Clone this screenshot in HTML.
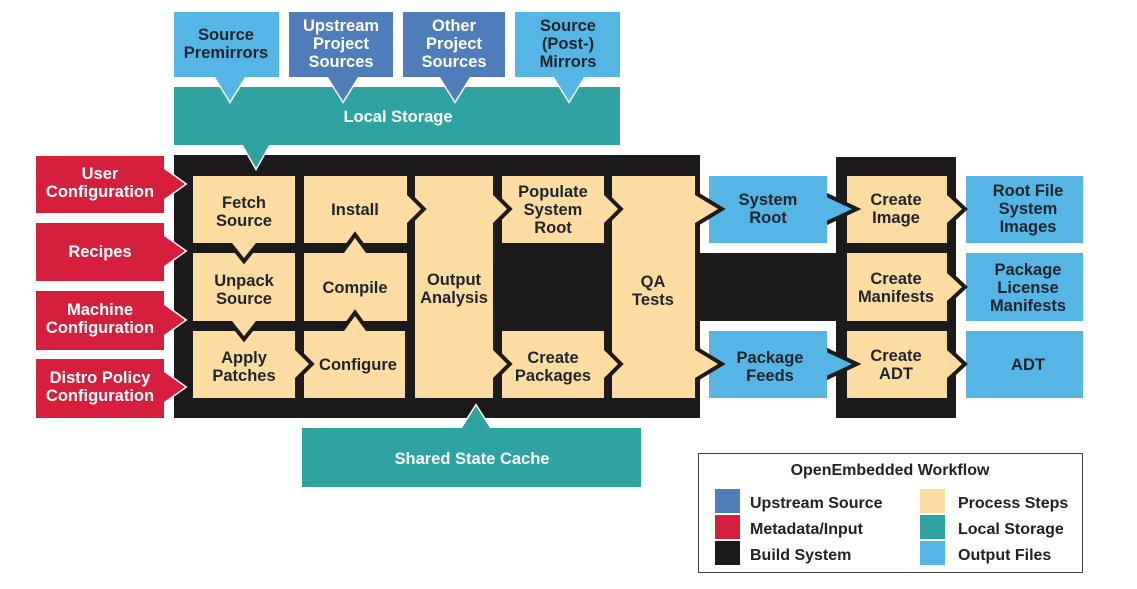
<!DOCTYPE html>
<html><head><meta charset="utf-8"><style>
html,body{margin:0;padding:0;background:#fff}
svg{display:block}
text{font-family:"Liberation Sans Narrow","Liberation Sans",sans-serif;font-weight:bold;font-size:16.5px;text-anchor:middle}
.w{fill:#fff}.d{fill:#1e2530}
.lg{font-family:"Liberation Sans",sans-serif;font-size:16px;text-anchor:start;fill:#222}
</style></head><body>
<svg width="1137" height="589" viewBox="0 0 1137 589" xmlns="http://www.w3.org/2000/svg">
<rect width="1137" height="589" fill="#fff"/>

<!-- main black -->
<rect x="174" y="155" width="526" height="263" fill="#1c1a1a"/>
<rect x="836" y="157" width="120" height="261" fill="#1c1a1a"/>
<rect x="700" y="253" width="136" height="68" fill="#1c1a1a"/>

<!-- Local storage with pointer -->
<polygon fill="#2fa2a2" stroke="#fff" stroke-width="3" paint-order="stroke" points="174,87 620,87 620,145 269,145 256,168 243,145 174,145"/>
<text class="w" x="398" y="122">Local Storage</text>

<!-- top boxes with down pointers -->
<g stroke="#fff" stroke-width="3" paint-order="stroke">
<polygon fill="#55b5e5" points="174,12 279,12 279,77 245,77 230,101 215,77 174,77"/>
<polygon fill="#4e7db9" points="289,12 393,12 393,77 358,77 343,101 328,77 289,77"/>
<polygon fill="#4e7db9" points="403,12 505,12 505,77 470,77 455,101 440,77 403,77"/>
<polygon fill="#55b5e5" points="515,12 620,12 620,77 584,77 569,101 554,77 515,77"/>
</g>
<text class="d" x="226" y="40">Source</text><text class="d" x="226" y="58">Premirrors</text>
<text class="w" x="341" y="31">Upstream</text><text class="w" x="341" y="49">Project</text><text class="w" x="341" y="67">Sources</text>
<text class="w" x="454" y="31">Other</text><text class="w" x="454" y="49">Project</text><text class="w" x="454" y="67">Sources</text>
<text class="d" x="568" y="31">Source</text><text class="d" x="568" y="49">(Post-)</text><text class="d" x="568" y="67">Mirrors</text>

<!-- shared state cache -->
<polygon fill="#2fa2a2" stroke="#fff" stroke-width="3" paint-order="stroke" points="302,428 462,428 476,406 490,428 641,428 641,487 302,487"/>
<text class="w" x="472" y="464">Shared State Cache</text>

<!-- red inputs -->
<g fill="#d51f3d" stroke="#fff" stroke-width="3" paint-order="stroke">
<polygon points="36,156 164,156 164,169 185,184 164,199 164,213 36,213"/>
<polygon points="36,223 164,223 164,236 185,251 164,266 164,281 36,281"/>
<polygon points="36,291 164,291 164,305 185,320 164,335 164,350 36,350"/>
<polygon points="36,359 164,359 164,372 185,387 164,402 164,418 36,418"/>
</g>
<text class="w" x="100" y="179">User</text><text class="w" x="100" y="197">Configuration</text>
<text class="w" x="100" y="257">Recipes</text>
<text class="w" x="100" y="315">Machine</text><text class="w" x="100" y="333">Configuration</text>
<text class="w" x="100" y="383">Distro Policy</text><text class="w" x="100" y="401">Configuration</text>

<!-- output files -->
<g fill="#55b5e5">
<rect x="966" y="176" width="117" height="67"/>
<rect x="966" y="253" width="117" height="68"/>
<rect x="966" y="331" width="117" height="67"/>
</g>
<!-- create boxes -->
<g fill="#fcdca0" stroke="#1c1a1a" stroke-width="8" paint-order="stroke" stroke-linejoin="miter">
<polygon points="847,176 947,176 947,195 962,209 947,223 947,243 847,243"/>
<polygon points="847,253 947,253 947,273 962,287 947,301 947,321 847,321"/>
<polygon points="847,331 947,331 947,350 962,364 947,378 947,398 847,398"/>
</g>
<!-- system root / package feeds -->
<g fill="#55b5e5" stroke="#1c1a1a" stroke-width="8" paint-order="stroke">
<polygon points="822,195 852,209 822,223"/>
<polygon points="822,350 852,364 822,378"/>
</g>
<g fill="#55b5e5">
<rect x="709" y="176" width="118" height="67"/>
<rect x="709" y="331" width="118" height="67"/>
</g>
<!-- process steps -->
<g fill="#fcdca0" stroke="#1c1a1a" stroke-width="8" paint-order="stroke" stroke-linejoin="miter">
<polygon points="612,176 695,176 695,195 718,209 695,223 695,350 718,364 695,378 695,398 612,398"/>
<polygon points="502,176 604,176 604,195 618,209 604,223 604,243 502,243"/>
<polygon points="502,331 604,331 604,350 618,364 604,378 604,398 502,398"/>
<polygon points="415,176 493,176 493,195 507,209 493,223 493,350 507,364 493,378 493,398 415,398"/>
<polygon points="304,176 407,176 407,195 421,209 407,223 407,243 304,243"/>
<polygon points="304,253 344,253 355,238 366,253 407,253 407,321 304,321"/>
<polygon points="304,331 344,331 355,316 366,331 405,331 405,398 304,398"/>
<polygon points="193,331 295,331 295,350 309,364 295,378 295,398 193,398"/>
<polygon points="193,253 295,253 295,321 256,321 244,336 232,321 193,321"/>
<polygon points="193,176 295,176 295,243 256,243 244,258 232,243 193,243"/>
</g>
<!-- labels -->
<text class="d" x="244" y="208">Fetch</text><text class="d" x="244" y="226">Source</text>
<text class="d" x="244" y="286">Unpack</text><text class="d" x="244" y="304">Source</text>
<text class="d" x="244" y="363">Apply</text><text class="d" x="244" y="381">Patches</text>
<text class="d" x="355" y="215">Install</text>
<text class="d" x="355" y="293">Compile</text>
<text class="d" x="358" y="370">Configure</text>
<text class="d" x="454" y="285">Output</text><text class="d" x="454" y="303">Analysis</text>
<text class="d" x="553" y="197">Populate</text><text class="d" x="553" y="215">System</text><text class="d" x="553" y="233">Root</text>
<text class="d" x="553" y="363">Create</text><text class="d" x="553" y="381">Packages</text>
<text class="d" x="653" y="287">QA</text><text class="d" x="653" y="305">Tests</text>
<text class="d" x="768" y="205">System</text><text class="d" x="768" y="223">Root</text>
<text class="d" x="770" y="363">Package</text><text class="d" x="770" y="381">Feeds</text>
<text class="d" x="896" y="205">Create</text><text class="d" x="896" y="223">Image</text>
<text class="d" x="896" y="284">Create</text><text class="d" x="896" y="302">Manifests</text>
<text class="d" x="896" y="361">Create</text><text class="d" x="896" y="379">ADT</text>
<text class="d" x="1028" y="196">Root File</text><text class="d" x="1028" y="214">System</text><text class="d" x="1028" y="232">Images</text>
<text class="d" x="1028" y="275">Package</text><text class="d" x="1028" y="293">License</text><text class="d" x="1028" y="311">Manifests</text>
<text class="d" x="1028" y="370">ADT</text>

<!-- legend -->
<rect x="698.5" y="453.5" width="384" height="119" fill="#fff" stroke="#444" stroke-width="1"/>
<text x="890" y="475" style="font-family:'Liberation Sans',sans-serif;font-size:16px;fill:#222">OpenEmbedded Workflow</text>
<rect x="715" y="489" width="25" height="24" fill="#4e7db9"/>
<rect x="715" y="515" width="25" height="24" fill="#d51f3d"/>
<rect x="715" y="541" width="25" height="24" fill="#1c1a1a"/>
<rect x="920" y="489" width="25" height="24" fill="#fcdca0"/>
<rect x="920" y="515" width="25" height="24" fill="#2fa2a2"/>
<rect x="920" y="541" width="25" height="24" fill="#55b5e5"/>
<text class="lg" x="750" y="508">Upstream Source</text>
<text class="lg" x="750" y="534">Metadata/Input</text>
<text class="lg" x="750" y="560">Build System</text>
<text class="lg" x="958" y="508">Process Steps</text>
<text class="lg" x="958" y="534">Local Storage</text>
<text class="lg" x="958" y="560">Output Files</text>
</svg>
</body></html>
